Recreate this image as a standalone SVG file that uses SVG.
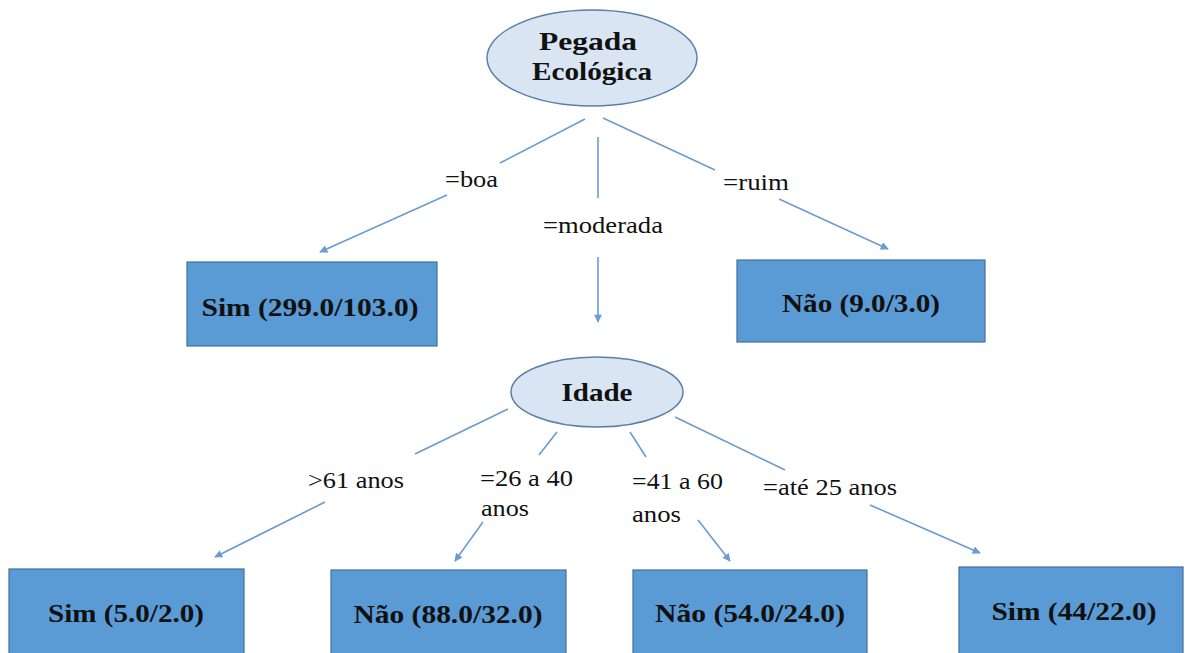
<svg xmlns="http://www.w3.org/2000/svg" width="1185" height="653" viewBox="0 0 1185 653">
<style>
.ell{fill:#dae5f4;stroke:#5a80a8;stroke-width:1.5}
.box{fill:#5b9bd5;stroke:#41719c;stroke-width:1.2}
.bt{font-weight:bold;font-size:25px;fill:#111;text-anchor:middle}
.et{font-weight:bold;font-size:26px;fill:#111;text-anchor:middle}
.lb{font-size:23px;fill:#111}
.cn{stroke:#6c9bcf;stroke-width:1.6;fill:none}
</style>
<defs>
<marker id="ah" viewBox="0 0 10 10" refX="9" refY="5" markerWidth="9" markerHeight="8" markerUnits="userSpaceOnUse" orient="auto">
<path d="M0,0 L10,5 L0,10 z" fill="#6c9bcf"/>
</marker>
</defs>
<rect width="1185" height="653" fill="#fff"/>
<g id="connectors">
<line class="cn" x1="585" y1="119" x2="500" y2="163"/>
<line class="cn" x1="447" y1="195" x2="320" y2="252" marker-end="url(#ah)"/>
<line class="cn" x1="598" y1="137" x2="598" y2="198"/>
<line class="cn" x1="598" y1="257" x2="598" y2="322" marker-end="url(#ah)"/>
<line class="cn" x1="603" y1="118" x2="715" y2="170"/>
<line class="cn" x1="779" y1="199" x2="888" y2="249" marker-end="url(#ah)"/>
<line class="cn" x1="508" y1="409" x2="415" y2="454"/>
<line class="cn" x1="325" y1="502" x2="215" y2="557" marker-end="url(#ah)"/>
<line class="cn" x1="557" y1="432" x2="539" y2="455"/>
<line class="cn" x1="483" y1="522" x2="455" y2="561" marker-end="url(#ah)"/>
<line class="cn" x1="630" y1="432" x2="646" y2="457"/>
<line class="cn" x1="698" y1="520" x2="730" y2="561" marker-end="url(#ah)"/>
<line class="cn" x1="675" y1="417" x2="785" y2="470"/>
<line class="cn" x1="870" y1="505" x2="980" y2="553" marker-end="url(#ah)"/>
</g>
<g id="labels" font-family="Liberation Serif, serif">
<text class="lb" x="445" y="187" textLength="53" lengthAdjust="spacingAndGlyphs">=boa</text>
<text class="lb" x="543" y="233" textLength="120" lengthAdjust="spacingAndGlyphs">=moderada</text>
<text class="lb" x="723" y="190" textLength="66" lengthAdjust="spacingAndGlyphs">=ruim</text>
<text class="lb" x="308" y="488" textLength="96" lengthAdjust="spacingAndGlyphs">&gt;61 anos</text>
<text class="lb" x="480" y="486" textLength="93" lengthAdjust="spacingAndGlyphs">=26 a 40</text>
<text class="lb" x="481" y="516" textLength="48" lengthAdjust="spacingAndGlyphs">anos</text>
<text class="lb" x="632" y="489" textLength="91" lengthAdjust="spacingAndGlyphs">=41 a 60</text>
<text class="lb" x="632" y="522" textLength="49" lengthAdjust="spacingAndGlyphs">anos</text>
<text class="lb" x="763" y="495" textLength="134" lengthAdjust="spacingAndGlyphs">=até 25 anos</text>
</g>
<g id="node-pegada" font-family="Liberation Serif, serif">
<ellipse class="ell" cx="592" cy="58" rx="105" ry="48"/>
<text class="et" x="588" y="50" textLength="98" lengthAdjust="spacingAndGlyphs">Pegada</text>
<text class="et" x="592" y="80" textLength="120" lengthAdjust="spacingAndGlyphs">Ecológica</text>
</g>
<g id="node-idade" font-family="Liberation Serif, serif">
<ellipse class="ell" cx="597" cy="392" rx="86" ry="35"/>
<text class="et" x="597" y="401" textLength="71" lengthAdjust="spacingAndGlyphs">Idade</text>
</g>
<g id="node-sim1" font-family="Liberation Serif, serif">
<rect class="box" x="187" y="262" width="250" height="84"/>
<text class="bt" x="310" y="316" textLength="217" lengthAdjust="spacingAndGlyphs">Sim (299.0/103.0)</text>
</g>
<g id="node-nao1" font-family="Liberation Serif, serif">
<rect class="box" x="737" y="260" width="248" height="82"/>
<text class="bt" x="861" y="312" textLength="158" lengthAdjust="spacingAndGlyphs">Não (9.0/3.0)</text>
</g>
<g id="node-sim2" font-family="Liberation Serif, serif">
<rect class="box" x="9" y="569" width="235" height="100"/>
<text class="bt" x="126" y="622" textLength="156" lengthAdjust="spacingAndGlyphs">Sim (5.0/2.0)</text>
</g>
<g id="node-nao2" font-family="Liberation Serif, serif">
<rect class="box" x="331" y="570" width="235" height="100"/>
<text class="bt" x="448" y="623" textLength="189" lengthAdjust="spacingAndGlyphs">Não (88.0/32.0)</text>
</g>
<g id="node-nao3" font-family="Liberation Serif, serif">
<rect class="box" x="633" y="570" width="234" height="100"/>
<text class="bt" x="750" y="622" textLength="190" lengthAdjust="spacingAndGlyphs">Não (54.0/24.0)</text>
</g>
<g id="node-sim3" font-family="Liberation Serif, serif">
<rect class="box" x="959" y="567" width="224" height="100"/>
<text class="bt" x="1074" y="620" textLength="165" lengthAdjust="spacingAndGlyphs">Sim (44/22.0)</text>
</g>
</svg>
